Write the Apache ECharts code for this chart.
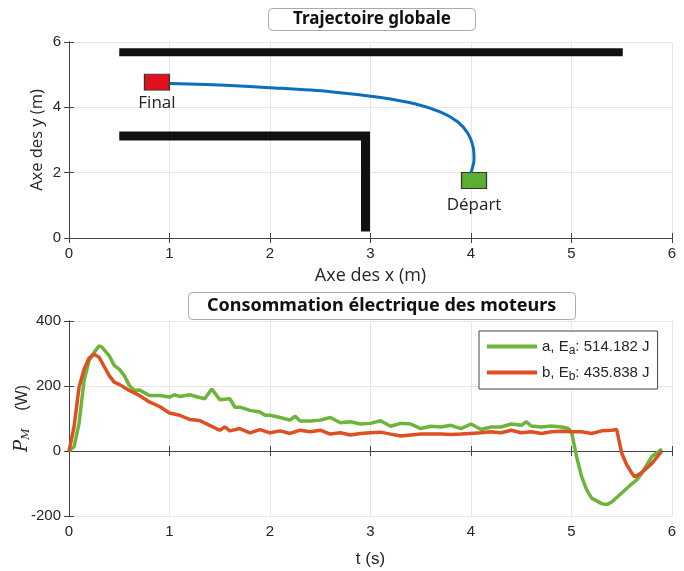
<!DOCTYPE html>
<html>
<head>
<meta charset="utf-8">
<script src="https://cdn.jsdelivr.net/npm/echarts@6/dist/echarts.min.js"></script>
<style>
  html, body { margin: 0; padding: 0; background: #fff; }
  #chart { width: 684px; height: 571px; }
</style>
</head>
<body>
<div id="chart"></div>
<script>
// ---- trajectoire (m) ----
const wallTop = [[0.5, 5.69], [5.51, 5.69]];
const wallL = [[0.5, 3.12], [2.95, 3.12], [2.95, 0.2]];
const trajectory = [
  [4.0, 2.0], [4.03, 2.4], [4.02, 2.8], [3.97, 3.2], [3.87, 3.55], [3.7, 3.85],
  [3.45, 4.1], [3.1, 4.3], [2.6, 4.48], [2.0, 4.6], [1.5, 4.68], [1.0, 4.73]
];
const startPoint = [4.03, 1.76];
const finalPoint = [0.875, 4.77];

// ---- consommation (W) ----
const timeA = [0, 0.05, 0.1, 0.15, 0.2, 0.25, 0.3, 0.33, 0.4, 0.45, 0.5, 0.55, 0.6, 0.65, 0.7, 0.8, 0.9,
  1.0, 1.05, 1.1, 1.2, 1.28, 1.35, 1.42, 1.5, 1.6, 1.65, 1.7, 1.8, 1.9, 1.95, 2.0, 2.1, 2.2, 2.25, 2.3,
  2.4, 2.5, 2.6, 2.7, 2.8, 2.9, 3.0, 3.1, 3.2, 3.3, 3.4, 3.5, 3.6, 3.7, 3.8, 3.9, 4.0, 4.1, 4.2, 4.3,
  4.4, 4.5, 4.55, 4.6, 4.7, 4.8, 4.9, 4.97, 5.0, 5.05, 5.1, 5.15, 5.2, 5.3, 5.35, 5.4, 5.5, 5.6, 5.65,
  5.7, 5.8, 5.9];
const powerA = [0, 13, 85, 217, 278, 303, 324, 319, 293, 263, 252, 232, 202, 186, 188, 171, 171,
  166, 173, 168, 173, 166, 161, 191, 158, 161, 135, 135, 125, 120, 110, 110, 103, 95, 107, 92,
  92, 95, 103, 87, 90, 83, 85, 93, 76, 85, 83, 69, 76, 74, 79, 69, 83, 66, 74, 74,
  83, 79, 90, 77, 74, 77, 74, 69, 59, -17, -78, -119, -145, -162, -165, -157, -129, -101, -89,
  -68, -17, 6];
const timeB = [0, 0.05, 0.1, 0.15, 0.2, 0.25, 0.3, 0.35, 0.4, 0.45, 0.5, 0.6, 0.7, 0.8, 0.9, 1.0,
  1.1, 1.2, 1.3, 1.4, 1.5, 1.55, 1.6, 1.7, 1.8, 1.9, 2.0, 2.1, 2.2, 2.3, 2.4, 2.5, 2.6, 2.7, 2.8,
  2.9, 3.0, 3.1, 3.2, 3.3, 3.4, 3.5, 3.6, 3.7, 3.8, 3.9, 4.0, 4.1, 4.2, 4.3, 4.4, 4.5, 4.6, 4.7,
  4.8, 4.9, 5.0, 5.1, 5.2, 5.3, 5.4, 5.45, 5.5, 5.55, 5.6, 5.63, 5.7, 5.8, 5.9];
const powerB = [0, 74, 196, 252, 286, 298, 288, 260, 232, 212, 205, 186, 171, 151, 137, 117,
  110, 97, 94, 79, 64, 74, 62, 69, 56, 66, 56, 62, 54, 64, 59, 64, 52, 56, 49,
  54, 56, 58, 52, 46, 49, 52, 52, 52, 51, 52, 54, 56, 59, 56, 64, 56, 59, 54,
  59, 61, 59, 59, 54, 62, 64, 66, -7, -43, -68, -80, -66, -38, 0];
const legendNames = ['a', 'b'];
const legendEnergy = ['514.182', '435.838'];

const zip = (xs, ys) => xs.map((x, i) => [x, ys[i]]);

const txt = '#262626';
const font = 'Liberation Sans';

function valueAxis(grid, extra) {
  return Object.assign({
    gridIndex: grid,
    type: 'value',
    nameMoveOverlap: false,
    axisLine: { show: true, lineStyle: { color: '#444', width: 1 } },
    axisTick: { show: true, inside: true, length: 5, lineStyle: { color: '#444' } },
    axisLabel: { color: txt, fontSize: 15, fontFamily: font, margin: 8 },
    splitLine: { show: true, lineStyle: { color: '#e6e6e6', width: 1 } },
    nameTextStyle: { color: txt, fontSize: 18, fontFamily: 'Open Sans' }
  }, extra);
}
function mirrorAxis(grid, pos, min, max, interval) {
  return {
    gridIndex: grid, type: 'value', position: pos, min: min, max: max, interval: interval,
    axisLine: { show: true, lineStyle: { color: '#444' } },
    axisTick: { show: true, inside: true, length: 5, lineStyle: { color: '#444' } },
    axisLabel: { show: false }, splitLine: { show: false }
  };
}

const chart = echarts.init(document.getElementById('chart'));
chart.setOption({
  animation: false,
  backgroundColor: '#fff',
  title: [
    {
      text: 'Trajectoire globale', left: 268, top: 8,
      padding: [3, 25, 3, 25],
      borderColor: '#aaa', borderWidth: 1, borderRadius: 4, backgroundColor: '#fff',
      textStyle: { fontFamily: 'Noto Sans', fontWeight: 'bold', fontSize: 17, color: '#111' }
    },
    {
      text: 'Consommation électrique des moteurs', left: 188, top: 292,
      padding: [5, 19, 5, 19],
      borderColor: '#aaa', borderWidth: 1, borderRadius: 4, backgroundColor: '#fff',
      textStyle: { fontFamily: 'Noto Sans', fontWeight: 'bold', fontSize: 18, color: '#111' }
    }
  ],
  grid: [
    { left: 69, right: 12, top: 42, height: 196, outerBoundsMode: 'none' },
    { left: 69, right: 12, top: 321, height: 195, outerBoundsMode: 'none' }
  ],
  legend: {
    data: legendNames,
    left: 479, top: 331,
    orient: 'vertical',
    padding: [8, 8, 6, 8],
    itemGap: 8,
    itemWidth: 50, itemHeight: 4,
    icon: 'rect',
    borderColor: '#444', borderWidth: 1, backgroundColor: '#fff',
    formatter: name => {
      const i = legendNames.indexOf(name);
      return name + ', E{sub|' + name + '}: ' + legendEnergy[i] + ' J';
    },
    textStyle: {
      color: txt, fontSize: 15, fontFamily: font,
      rich: { sub: { fontSize: 12, fontFamily: font, color: txt, padding: [9, 0, 0, 0] } }
    }
  },
  xAxis: [
    valueAxis(0, { min: 0, max: 6, interval: 1, name: 'Axe des x (m)', nameLocation: 'middle', nameGap: 29 }),
    valueAxis(1, { min: 0, max: 6, interval: 1, name: 't (s)', nameLocation: 'middle', nameGap: 35,
      nameTextStyle: { color: txt, fontSize: 17, fontFamily: font } }),
    mirrorAxis(0, 'top', 0, 6, 1),
    mirrorAxis(1, 'top', 0, 6, 1)
  ],
  yAxis: [
    valueAxis(0, { min: 0, max: 6, interval: 2, name: 'Axe des y (m)', nameLocation: 'middle', nameGap: 23,
      nameTextStyle: { color: txt, fontSize: 16.5, fontFamily: 'Open Sans' } }),
    valueAxis(1, { min: -200, max: 400, interval: 200, name: '{i|P}{s|M}    (W)', nameLocation: 'middle', nameGap: 37,
      nameTextStyle: {
        color: txt, fontSize: 16, fontFamily: font,
        rich: {
          i: { fontFamily: 'DejaVu Serif', fontStyle: 'italic', fontSize: 18, color: txt },
          s: { fontFamily: 'DejaVu Serif', fontStyle: 'italic', fontSize: 11, color: txt, padding: [8, 0, 0, 0] }
        }
      } }),
    mirrorAxis(0, 'right', 0, 6, 2),
    mirrorAxis(1, 'right', -200, 400, 200)
  ],
  series: [
    {
      type: 'line', xAxisIndex: 0, yAxisIndex: 0, data: wallTop, symbol: 'none',
      lineStyle: { color: '#111', width: 8, cap: 'butt' }, silent: true
    },
    {
      type: 'line', xAxisIndex: 0, yAxisIndex: 0, data: wallL, symbol: 'none',
      lineStyle: { color: '#111', width: 9, cap: 'butt', join: 'miter' }, silent: true
    },
    {
      type: 'line', xAxisIndex: 0, yAxisIndex: 0, data: trajectory, symbol: 'none', smooth: 0.3,
      lineStyle: { color: '#0a6fbd', width: 3 }
    },
    {
      type: 'scatter', xAxisIndex: 0, yAxisIndex: 0, symbol: 'rect', symbolSize: [25, 16],
      data: [finalPoint],
      itemStyle: { color: '#e0121f', borderColor: '#333', borderWidth: 1, opacity: 1 },
      label: { show: true, position: 'bottom', distance: 4, formatter: 'Final',
        fontFamily: 'Open Sans', fontSize: 17, color: '#222' }
    },
    {
      type: 'scatter', xAxisIndex: 0, yAxisIndex: 0, symbol: 'rect', symbolSize: [25, 16],
      data: [startPoint],
      itemStyle: { color: '#5aaf32', borderColor: '#333', borderWidth: 1, opacity: 1 },
      label: { show: true, position: 'bottom', distance: 8, formatter: 'Départ',
        fontFamily: 'Open Sans', fontSize: 17, color: '#222' }
    },
    {
      name: 'a', type: 'line', xAxisIndex: 1, yAxisIndex: 1, data: zip(timeA, powerA),
      symbol: 'none', lineStyle: { color: '#6cb43a', width: 3.5 }, itemStyle: { color: '#6cb43a' }
    },
    {
      name: 'b', type: 'line', xAxisIndex: 1, yAxisIndex: 1, data: zip(timeB, powerB),
      symbol: 'none', lineStyle: { color: '#de4f22', width: 3.5 }, itemStyle: { color: '#de4f22' }
    }
  ]
});
</script>
</body>
</html>
